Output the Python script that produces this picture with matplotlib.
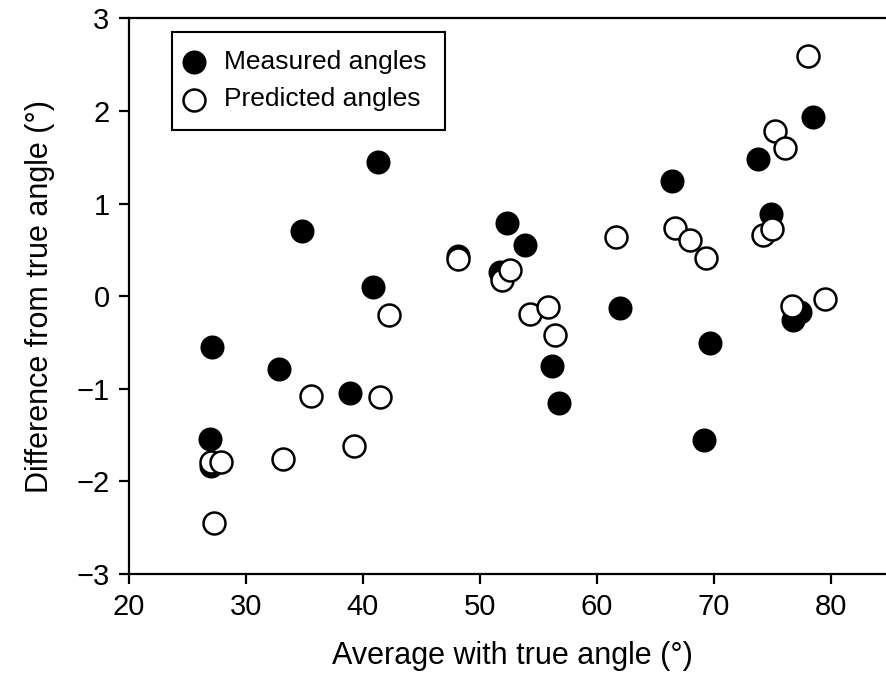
import matplotlib
matplotlib.use("Agg")
import matplotlib.pyplot as plt

plt.rcParams['font.family'] = ['Liberation Sans', 'DejaVu Sans']

# ---------------------------
# Data
# ---------------------------
measured_x = [27.1, 26.9, 27.0, 32.8, 34.8, 38.9, 40.9, 41.3, 48.1, 51.7, 52.3, 53.9,
              56.2, 56.8, 62.0, 66.4, 69.2, 69.7, 73.8, 74.9, 76.8, 77.4, 78.5]
measured_y = [-0.55, -1.54, -1.83, -0.79, 0.70, -1.05, 0.10, 1.45, 0.44, 0.26, 0.79, 0.55,
              -0.75, -1.15, -0.13, 1.25, -1.55, -0.51, 1.48, 0.89, -0.26, -0.17, 1.94]

predicted_x = [27.0, 27.9, 27.3, 33.2, 35.6, 39.2, 41.5, 42.2, 48.1, 51.9, 52.6, 54.3,
               55.8, 56.4, 61.6, 66.7, 68.0, 69.3, 74.2, 75.0, 75.2, 76.1, 76.7, 78.1, 79.5]
predicted_y = [-1.79, -1.79, -2.45, -1.76, -1.08, -1.62, -1.09, -0.20, 0.40, 0.18, 0.28, -0.19,
               -0.12, -0.42, 0.64, 0.74, 0.61, 0.41, 0.66, 0.73, 1.78, 1.60, -0.10, 2.60, -0.03]

x_ticks = [20, 30, 40, 50, 60, 70, 80]
y_ticks = [-3, -2, -1, 0, 1, 2, 3]
y_tick_labels = ['\u22123', '\u22122', '\u22121', '0', '1', '2', '3']

fig = plt.figure(figsize=(8.86, 6.75), dpi=100)
# right spine sits just past the image edge, like the cropped original
ax = fig.add_axes([0.1456, 0.1496, 0.8646, 0.823])

ax.scatter(measured_x, measured_y, s=250, c='black', edgecolors='black',
           linewidths=1.5, label='Measured angles', zorder=3)
ax.scatter(predicted_x, predicted_y, s=250, c='white', edgecolors='black',
           linewidths=1.8, label='Predicted angles', zorder=3)

ax.set_xlim(20, 85.5)
ax.set_ylim(-3, 3)
ax.set_xticks(x_ticks)
ax.set_yticks(y_ticks)
ax.set_yticklabels(y_tick_labels)

for side in ['left', 'bottom', 'top', 'right']:
    ax.spines[side].set_linewidth(1.6)
ax.tick_params(direction='out', length=7, width=1.6, labelsize=21, pad=7)

ax.set_xlabel('Average with true angle (\u00b0)', fontsize=22, labelpad=14)
ax.set_ylabel('Difference from true angle (\u00b0)', fontsize=22, labelpad=15)

leg = ax.legend(loc='upper left', bbox_to_anchor=(0.0562, 0.976), borderaxespad=0,
                fontsize=19, frameon=True, fancybox=False, edgecolor='black',
                framealpha=1, handletextpad=0.98, borderpad=0.7, labelspacing=0.5,
                handlelength=0.3, markerscale=1.0)
leg.get_frame().set_linewidth(1.5)

fig.savefig('out.png', dpi=100)
